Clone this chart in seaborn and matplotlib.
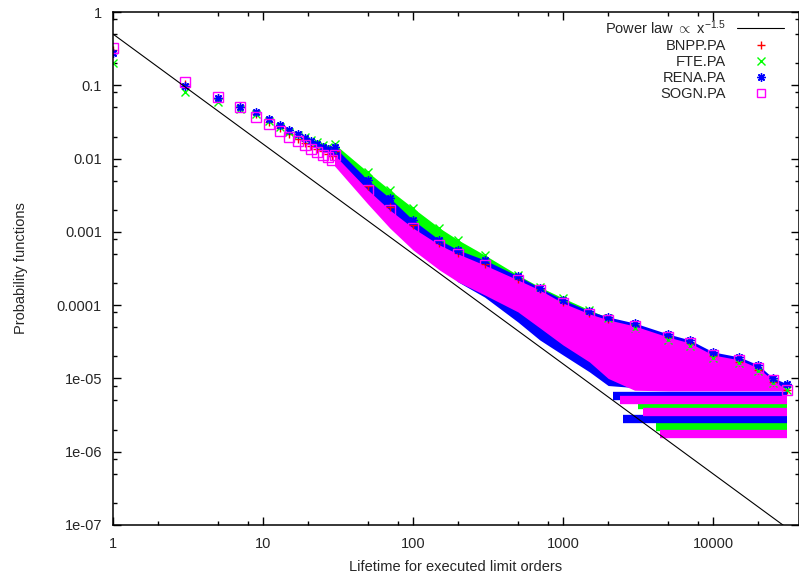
import matplotlib
matplotlib.use("Agg")
import matplotlib.pyplot as plt
from matplotlib.lines import Line2D
from matplotlib.ticker import LogLocator, FixedLocator, FixedFormatter, NullFormatter
import seaborn as sns

# early lifetimes, where the markers are still separated
early_lifetime = [1, 3, 5, 7, 9, 11, 13, 15, 17, 19, 21, 23, 25, 27, 29]
bnpp_early = [0.30, 0.105, 0.068, 0.050, 0.040, 0.032, 0.026, 0.0215, 0.0185, 0.0165, 0.0150, 0.0137, 0.0126, 0.0117, 0.0108]
fte_early = [0.20, 0.080, 0.059, 0.047, 0.040, 0.033, 0.027, 0.0231, 0.0210, 0.0194, 0.0179, 0.0166, 0.0153, 0.0144, 0.0135]
rena_early = [0.28, 0.098, 0.068, 0.0506, 0.043, 0.0347, 0.0284, 0.0246, 0.0217, 0.0193, 0.0174, 0.0158, 0.0146, 0.0135, 0.0125]
sogn_early = [0.32, 0.112, 0.070, 0.050, 0.037, 0.0296, 0.024, 0.020, 0.0171, 0.0151, 0.0135, 0.0123, 0.0112, 0.0104, 0.0096]

# dense part of the distributions: upper / lower edge of each point cloud
cloud_lifetime = [30, 50, 70, 100, 150, 200, 300, 500, 700, 1000, 1500, 2000, 3000, 5000, 7000, 10000, 15000, 20000, 25000, 31000]
bnpp_top = [0.0125, 0.0042, 0.0022, 0.00125, 0.0007, 0.00052, 0.00037, 0.00023, 0.000165, 0.00011, 7.8e-5, 6.4e-5, 5.3e-5, 3.7e-5, 3.0e-5, 2.0e-5, 1.7e-5, 1.3e-5, 9.0e-6, 7.0e-6]
bnpp_bottom = [0.0085, 0.0027, 0.0013, 0.00065, 0.00034, 0.00023, 0.00015, 8.5e-5, 5.1e-5, 3.0e-5, 1.8e-5, 1.2e-5, 7.8e-6, 6.9e-6, 6.9e-6, 6.9e-6, 6.9e-6, 6.9e-6, 6.9e-6, 6.9e-6]
fte_top = [0.0158, 0.00656, 0.00373, 0.00212, 0.00113, 0.000775, 0.000484, 0.000258, 0.000177, 0.000125, 8.6e-5, 6.7e-5, 4.9e-5, 3.35e-5, 2.77e-5, 1.9e-5, 1.63e-5, 1.26e-5, 8.7e-6, 7.0e-6]
fte_bottom = [0.0108, 0.00423, 0.00233, 0.00124, 0.000663, 0.000455, 0.000302, 0.000151, 0.000101, 6.3e-5, 3.35e-5, 2.09e-5, 1.31e-5, 6.9e-6, 6.9e-6, 6.9e-6, 6.9e-6, 6.9e-6, 6.9e-6, 6.9e-6]
rena_top = [0.0144, 0.0051, 0.0029, 0.00145, 0.000775, 0.000566, 0.000414, 0.00025, 0.000172, 0.000118, 8.3e-5, 6.9e-5, 5.7e-5, 4.05e-5, 3.35e-5, 2.3e-5, 1.96e-5, 1.53e-5, 1.02e-5, 8.5e-6]
rena_bottom = [0.0108, 0.00373, 0.00187, 0.000775, 0.000353, 0.000207, 0.000129, 5.9e-5, 3.35e-5, 2.09e-5, 1.23e-5, 8.0e-6, 7.5e-6, 7.5e-6, 7.5e-6, 7.5e-6, 7.5e-6, 7.5e-6, 7.5e-6, 7.5e-6]
sogn_top = [0.0112, 0.00373, 0.00199, 0.00113, 0.000663, 0.000499, 0.000353, 0.000221, 0.000161, 0.000107, 7.6e-5, 6.3e-5, 5.2e-5, 3.68e-5, 3.05e-5, 2.09e-5, 1.79e-5, 1.39e-5, 9.5e-6, 7.0e-6]
sogn_bottom = [0.00793, 0.0024, 0.00113, 0.000566, 0.000302, 0.000207, 0.000138, 8.1e-5, 4.9e-5, 2.86e-5, 1.68e-5, 1.0e-5, 6.9e-6, 6.75e-6, 6.75e-6, 6.75e-6, 6.75e-6, 6.75e-6, 6.75e-6, 6.75e-6]

# single / double count levels at long lifetimes (horizontal bands)
bnpp_band_levels = [1.95e-6, 3.9e-6]
bnpp_band_start = [4500, 3500]
fte_band_levels = [2.2e-6, 4.35e-6]
fte_band_start = [4200, 3150]
rena_band_levels = [2.8e-6, 5.8e-6]
rena_band_start = [2500, 2150]
sogn_band_levels = [1.72e-6, 3.5e-6, 5.05e-6]
sogn_band_start = [4430, 3400, 2400]
band_end = 31000

# power law guide
power_prefactor = 0.5
power_exponent = -1.5
power_x = [1, 37150]

x_ticks = [1, 10, 100, 1000, 10000]
x_tick_labels = ["1", "10", "100", "1000", "10000"]
y_ticks = [1e-7, 1e-6, 1e-5, 1e-4, 1e-3, 1e-2, 1e-1, 1]
y_tick_labels = ["1e-07", "1e-06", "1e-05", "0.0001", "0.001", "0.01", "0.1", "1"]

sns.set_style("ticks")
plt.rcParams["font.family"] = ["Liberation Sans", "DejaVu Sans"]
plt.rcParams["mathtext.fontset"] = "custom"
plt.rcParams["mathtext.rm"] = "Liberation Sans"
plt.rcParams["mathtext.it"] = "Liberation Sans"

fig = plt.figure(figsize=(7.99, 5.79), dpi=100)
ax = fig.add_axes([113 / 799, 54 / 579, 685.5 / 799, 513 / 579])
ax.set_xscale("log")
ax.set_yscale("log")

asterisk = (8, 2, 0)
series = [
    ("BNPP.PA", "#ff0000", "+", bnpp_early, bnpp_top, bnpp_bottom, bnpp_band_levels, bnpp_band_start),
    ("FTE.PA", "#00ff00", "x", fte_early, fte_top, fte_bottom, fte_band_levels, fte_band_start),
    ("RENA.PA", "#0000ff", asterisk, rena_early, rena_top, rena_bottom, rena_band_levels, rena_band_start),
    ("SOGN.PA", "#ff00ff", "s", sogn_early, sogn_top, sogn_bottom, sogn_band_levels, sogn_band_start),
]

for name, color, marker, early, top, bottom, levels, starts in series:
    ax.fill_between(cloud_lifetime, bottom, top, color=color, lw=0)
    ax.hlines(levels, starts, band_end, color=color, lw=6)
    mfc = "none" if marker == "s" else color
    ms = 6.5 if marker == "s" else 6
    sns.lineplot(x=early_lifetime, y=early, ax=ax, color=color, marker=marker, markersize=ms,
                 markerfacecolor=mfc, markeredgecolor=color, markeredgewidth=1,
                 linestyle="", estimator=None, sort=False)
    sns.lineplot(x=cloud_lifetime, y=top, ax=ax, color=color, marker=marker, markersize=ms,
                 markerfacecolor=mfc, markeredgecolor=color, markeredgewidth=1,
                 linestyle="", estimator=None, sort=False)

power_y = [power_prefactor * v ** power_exponent for v in power_x]
sns.lineplot(x=power_x, y=power_y, ax=ax, color="black", lw=0.8, estimator=None, sort=False)

ax.set_xlim(1, 37150)
ax.set_ylim(1e-7, 1)

ax.xaxis.set_major_locator(FixedLocator(x_ticks))
ax.xaxis.set_major_formatter(FixedFormatter(x_tick_labels))
ax.yaxis.set_major_locator(FixedLocator(y_ticks))
ax.yaxis.set_major_formatter(FixedFormatter(y_tick_labels))
ax.xaxis.set_minor_locator(LogLocator(base=10, subs=[2, 5, 8], numticks=20))
ax.yaxis.set_minor_locator(LogLocator(base=10, subs=[2, 5, 8], numticks=20))
ax.xaxis.set_minor_formatter(NullFormatter())
ax.yaxis.set_minor_formatter(NullFormatter())
ax.tick_params(which="both", direction="in", top=True, right=True, width=1, labelsize=10.5, color="black")
ax.tick_params(which="major", length=6)
ax.tick_params(which="minor", length=3)
ax.tick_params(axis="x", pad=9)
ax.tick_params(axis="y", pad=8)
for sp in ax.spines.values():
    sp.set_linewidth(1.1)
    sp.set_color("black")

ax.set_xlabel("Lifetime for executed limit orders", fontsize=10.5, labelpad=6)
ax.set_ylabel("Probability functions", fontsize=10.5, labelpad=21)

handles = [Line2D([], [], color="black", lw=0.8)]
labels = [r"Power law $\propto$ x$^{-1.5}$"]
for name, color, marker, *_ in series:
    mfc = "none" if marker == "s" else color
    handles.append(Line2D([], [], color=color, marker=marker, linestyle="", markersize=6,
                          markerfacecolor=mfc, markeredgecolor=color))
    labels.append(name)
ax.legend(handles, labels, loc="upper right", bbox_to_anchor=(784 / 799, 561 / 579),
          bbox_transform=fig.transFigure, markerfirst=False, frameon=False, fontsize=10.5,
          handlelength=3.2, handletextpad=0.8, labelspacing=0.15, borderpad=0, borderaxespad=0)

fig.savefig("out.png", dpi=100)
